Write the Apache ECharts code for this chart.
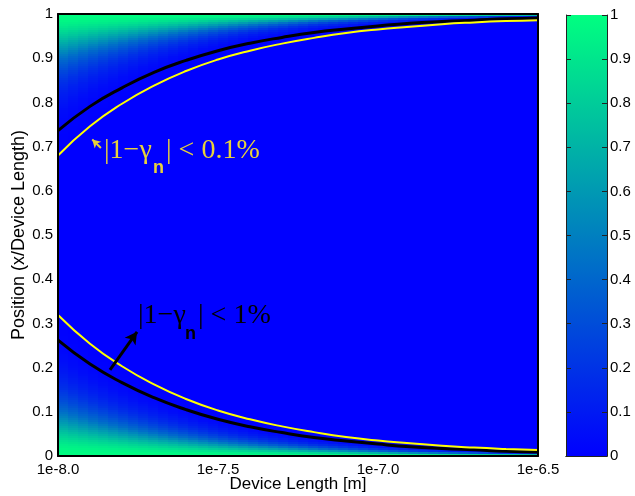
<!DOCTYPE html>
<html>
<head>
<meta charset="utf-8">
<script src="https://cdn.jsdelivr.net/npm/echarts@6/dist/echarts.min.js"></script>
<style>
html,body{margin:0;padding:0;background:#fff;}
#chart{width:635px;height:496px;}
</style>
</head>
<body>
<div id="chart"></div>
<script>
// ---- data ----
// device length, log10 of metres
const lengthExp = [-8.0,-7.9,-7.8,-7.7,-7.6,-7.5,-7.4,-7.3,-7.2,-7.1,-7.0,-6.9,-6.8,-6.7,-6.6,-6.5];
// |1-gamma_n| < 1% contour (black), lower and upper branches
const contourLow1  = [0.262,0.208,0.166,0.132,0.105,0.083,0.066,0.053,0.042,0.034,0.027,0.021,0.017,0.014,0.011,0.009];
const contourHigh1 = [0.736,0.791,0.833,0.868,0.895,0.917,0.934,0.947,0.958,0.966,0.973,0.979,0.983,0.986,0.989,0.991];
// |1-gamma_n| < 0.1% contour (yellow), lower and upper branches
const contourLow01  = [0.319,0.254,0.203,0.162,0.129,0.103,0.083,0.067,0.054,0.043,0.035,0.029,0.023,0.019,0.016,0.0136];
const contourHigh01 = [0.680,0.746,0.797,0.838,0.871,0.897,0.917,0.933,0.946,0.957,0.965,0.971,0.977,0.981,0.984,0.986];
// colour value vs distance from the edge (in units of the 1% contour distance), read from the first column
const edgeDist  = [0, 0.05, 0.1, 0.15, 0.2, 0.3, 0.4, 0.5, 0.6, 0.7, 0.85, 1.0, 1.2];
const edgeValue = [1.0, 0.98, 0.93, 0.86, 0.78, 0.6, 0.42, 0.29, 0.19, 0.12, 0.05, 0.015, 0];
// tick labels
const xTickLabels = ['1e-8.0','1e-7.5','1e-7.0','1e-6.5'];
const nCols = 48, nRows = 221;

function lookup(xs, ys, x) {
  if (x <= xs[0]) return ys[0];
  for (let i = 1; i < xs.length; i++) {
    if (x <= xs[i]) {
      const t = (x - xs[i-1]) / (xs[i] - xs[i-1]);
      return ys[i-1] + t * (ys[i] - ys[i-1]);
    }
  }
  return ys[ys.length - 1];
}
function logLookup(xs, ys, x) {
  return Math.exp(lookup(xs, ys.map(Math.log), x));
}

const cells = [];
const xMin = lengthExp[0], xMax = lengthExp[lengthExp.length-1];
for (let c = 0; c < nCols; c++) {
  const e0 = xMin + c * (xMax - xMin) / nCols;
  const e1 = xMin + (c + 1) * (xMax - xMin) / nCols;
  const ec = (e0 + e1) / 2;
  const wLow = logLookup(lengthExp, contourLow1, ec);
  const wHigh = logLookup(lengthExp, contourHigh1.map(v => 1 - v), ec);
  for (let r = 0; r < nRows; r++) {
    const p0 = r / nRows, p1 = (r + 1) / nRows, pc = (p0 + p1) / 2;
    const v = Math.max(lookup(edgeDist, edgeValue, pc / wLow), lookup(edgeDist, edgeValue, (1 - pc) / wHigh));
    cells.push([e0, e1, p0, p1, v]);
  }
}
const pairs = (ys) => lengthExp.map((e, i) => [e, ys[i]]);

const chart = echarts.init(document.getElementById('chart'), null, {renderer: 'canvas'});
const tickFont = {color: '#000', fontSize: 15, fontFamily: 'Liberation Sans, Arial, sans-serif'};
const serif = '"Liberation Serif", "Times New Roman", serif';

const option = {
  animation: false,
  backgroundColor: '#fff',
  grid: [
    {left: 58, top: 14, width: 480, height: 442, containLabel: false, outerBoundsMode: 'none'},
    {left: 566, top: 15, width: 41, height: 441, containLabel: false, outerBoundsMode: 'none'}
  ],
  visualMap: {
    show: false, type: 'continuous', seriesIndex: 0, dimension: 4,
    min: 0, max: 1, inRange: {color: ['#0000ff', '#00ff80']}
  },
  xAxis: [
    {type: 'value', gridIndex: 0, min: -8, max: -6.5, interval: 0.5, z: 10,
     axisLine: {show: true, onZero: false, lineStyle: {color: '#000', width: 2}},
     axisTick: {show: false}, splitLine: {show: false},
     axisLabel: Object.assign({margin: 6, formatter: v => xTickLabels[Math.round((v - xMin) / 0.5)]}, tickFont),
     name: 'Device Length [m]', nameLocation: 'middle', nameGap: 20, nameMoveOverlap: false,
     nameTextStyle: {color: '#000', fontSize: 17, fontFamily: 'Liberation Sans, Arial, sans-serif'}},
    {type: 'value', gridIndex: 0, position: 'top', min: -8, max: -6.5, z: 10,
     axisLine: {show: true, onZero: false, lineStyle: {color: '#000', width: 2}},
     axisTick: {show: false}, axisLabel: {show: false}, splitLine: {show: false}},
    {type: 'category', gridIndex: 1, data: ['c'], z: 10,
     axisLine: {show: true, lineStyle: {color: '#222', width: 1}},
     axisTick: {show: false}, axisLabel: {show: false}},
    {type: 'category', gridIndex: 1, position: 'top', data: ['c'], z: 10,
     axisLine: {show: true, lineStyle: {color: '#222', width: 1}},
     axisTick: {show: false}, axisLabel: {show: false}}
  ],
  yAxis: [
    {type: 'value', gridIndex: 0, min: 0, max: 1, interval: 0.1, z: 10,
     axisLine: {show: true, onZero: false, lineStyle: {color: '#000', width: 2}},
     axisTick: {show: false}, splitLine: {show: false},
     axisLabel: Object.assign({margin: 5}, tickFont),
     name: 'Position (x/Device Length)', nameLocation: 'middle', nameGap: 30, nameMoveOverlap: false,
     nameTextStyle: {color: '#000', fontSize: 18, fontFamily: 'Liberation Sans, Arial, sans-serif'}},
    {type: 'value', gridIndex: 0, position: 'right', min: 0, max: 1, interval: 0.1, z: 10,
     axisLine: {show: true, onZero: false, lineStyle: {color: '#000', width: 2}},
     axisTick: {show: false}, axisLabel: {show: false}, splitLine: {show: false}},
    {type: 'value', gridIndex: 1, position: 'right', min: 0, max: 1, interval: 0.1, z: 10,
     axisLine: {show: true, onZero: false, lineStyle: {color: '#222', width: 1}},
     axisTick: {show: true, inside: true, length: 5, lineStyle: {color: '#222'}},
     splitLine: {show: false},
     axisLabel: Object.assign({margin: 3}, tickFont)},
    {type: 'value', gridIndex: 1, position: 'left', min: 0, max: 1, interval: 0.1, z: 10,
     axisLine: {show: true, onZero: false, lineStyle: {color: '#222', width: 1}},
     axisTick: {show: true, inside: true, length: 5, lineStyle: {color: '#222'}},
     axisLabel: {show: false}, splitLine: {show: false}}
  ],
  series: [
    {
      type: 'custom', xAxisIndex: 0, yAxisIndex: 0, data: cells,
      dimensions: ['e0','e1','p0','p1','v'],
      encode: {x: [0, 1], y: [2, 3]},
      progressive: 0, silent: true, clip: true,
      renderItem: function (params, api) {
        const a = api.coord([api.value(0), api.value(3)]);
        const b = api.coord([api.value(1), api.value(2)]);
        const x0 = Math.round(a[0]), y0 = Math.round(a[1]);
        const x1 = Math.round(b[0]), y1 = Math.round(b[1]);
        return {type: 'rect', shape: {x: x0, y: y0, width: x1 - x0, height: y1 - y0},
                style: {fill: api.visual('color'), lineWidth: 0}};
      }
    },
    {type: 'line', xAxisIndex: 0, yAxisIndex: 0, data: pairs(contourLow1), smooth: true, symbol: 'none',
     lineStyle: {color: '#000', width: 3}, z: 3,
     markLine: {silent: true, symbol: ['none', 'arrow'], symbolSize: [10, 12], label: {show: false},
       lineStyle: {color: '#000', width: 3, type: 'solid'},
       data: [[{coord: [-7.8375, 0.195]}, {coord: [-7.753, 0.281]}]]}},
    {type: 'line', xAxisIndex: 0, yAxisIndex: 0, data: pairs(contourHigh1), smooth: true, symbol: 'none',
     lineStyle: {color: '#000', width: 3}, z: 3},
    {type: 'line', xAxisIndex: 0, yAxisIndex: 0, data: pairs(contourLow01), smooth: true, symbol: 'none',
     lineStyle: {color: '#ffff00', width: 2}, z: 4},
    {type: 'line', xAxisIndex: 0, yAxisIndex: 0, data: pairs(contourHigh01), smooth: true, symbol: 'none',
     lineStyle: {color: '#ffff00', width: 2}, z: 4,
     markLine: {silent: true, symbol: ['none', 'arrow'], symbolSize: [7, 8], label: {show: false},
       lineStyle: {color: '#e8d23a', width: 2, type: 'solid'},
       data: [[{coord: [-7.866, 0.697]}, {coord: [-7.893, 0.716]}]]}},
    {type: 'bar', xAxisIndex: 2, yAxisIndex: 2, data: [1], barWidth: '100%', silent: true,
     itemStyle: {color: new echarts.graphic.LinearGradient(0, 1, 0, 0, [
       {offset: 0, color: '#0000ff'}, {offset: 1, color: '#00ff80'}])}}
  ],
  graphic: [
    {type: 'text', z: 100, style: {x: 104, y: 151, text: '|1\u2212\u03b3', fill: '#e8d23a', font: '28px ' + serif, verticalAlign: 'middle'}},
    {type: 'text', z: 100, style: {x: 153, y: 168, text: 'n', fill: '#e8d23a', font: 'bold 18px "Liberation Sans", Arial, sans-serif', verticalAlign: 'middle'}},
    {type: 'text', z: 100, style: {x: 166, y: 151, text: '| < 0.1%', fill: '#e8d23a', font: '28px ' + serif, verticalAlign: 'middle'}},
    {type: 'text', z: 100, style: {x: 138, y: 316, text: '|1\u2212\u03b3', fill: '#000', font: '28px ' + serif, verticalAlign: 'middle'}},
    {type: 'text', z: 100, style: {x: 185, y: 334, text: 'n', fill: '#000', font: 'bold 18px "Liberation Sans", Arial, sans-serif', verticalAlign: 'middle'}},
    {type: 'text', z: 100, style: {x: 198, y: 316, text: '| < 1%', fill: '#000', font: '28px ' + serif, verticalAlign: 'middle'}}
  ]
};
chart.setOption(option);
</script>
</body>
</html>
